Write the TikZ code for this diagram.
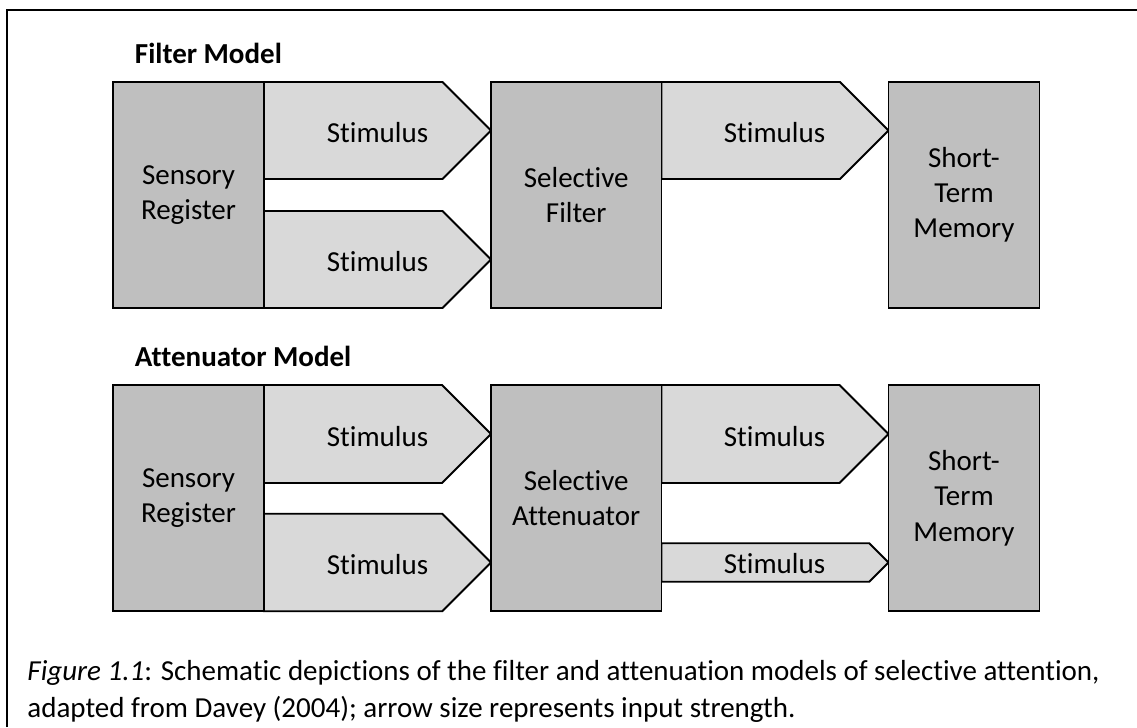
\documentclass[tikz,border=0pt]{standalone}
\usepackage{fontspec}
\setmainfont{Carlito}[Ligatures={NoCommon}]

\definecolor{boxgray}{RGB}{191,191,191}
\definecolor{arrowgray}{RGB}{217,217,217}

\tikzset{
    block/.style={draw, fill=boxgray, align=center, inner sep=0pt,
        minimum height=4.52cm},
    title/.style={anchor=base west, inner sep=0pt, font=\fontsize{16.5}{20}\selectfont\bfseries},
    capline/.style={anchor=base west, inner sep=0pt}
}

\begin{document}
\begin{tikzpicture}[line width=1.1pt, line join=miter, font=\fontsize{16.5}{20}\selectfont]
    \useasboundingbox (0,0) rectangle (22.74,14.54);
    \draw[line width=1.3pt] (0.14,0) -- (0.14,14.34) -- (22.74,14.34);

    % stimulus arrows: left end / tip / middle / half height
    \foreach \xa/\xb/\ym/\hh in {5.28/9.82/11.93/0.97, 5.28/9.82/9.35/0.97,
        13.23/17.77/11.93/0.97, 5.28/9.82/5.86/0.98, 5.28/9.82/3.29/0.975,
        13.23/17.77/5.86/0.98, 13.23/17.77/3.29/0.385}{
        \filldraw[fill=arrowgray] (\xa,\ym+\hh) -- (\xb-\hh,\ym+\hh) -- (\xb,\ym)
            -- (\xb-\hh,\ym-\hh) -- (\xa,\ym-\hh) -- cycle;
    }

    % filter model
    \node[title] (ftitle) at (2.68,13.26) {Filter Model};
    \node[block, minimum width=3.02cm] (fsr) at (3.77,10.64) {Sensory\\Register};
    \node[block, minimum width=3.41cm] (fsel) at (11.525,10.64) {Selective\\Filter};
    \node[block, minimum width=3.02cm] (fstm) at (19.28,10.64) {Short-\\Term\\Memory};
    \node (fs1) at (7.55,11.88) {Stimulus};
    \node (fs2) at (7.55,9.30) {Stimulus};
    \node (fs3) at (15.49,11.88) {Stimulus};

    % attenuator model
    \node[title] (atitle) at (2.68,7.20) {Attenuator Model};
    \node[block, minimum width=3.02cm] (asr) at (3.77,4.575) {Sensory\\Register};
    \node[block, minimum width=3.41cm] (asel) at (11.525,4.575) {Selective\\Attenuator};
    \node[block, minimum width=3.02cm] (astm) at (19.28,4.575) {Short-\\Term\\Memory};
    \node (as1) at (7.55,5.81) {Stimulus};
    \node (as2) at (7.55,3.24) {Stimulus};
    \node (as3) at (15.49,5.81) {Stimulus};
    \node (as4) at (15.49,3.26) {Stimulus};

    \node[capline] (cap1) at (0.53,0.94) {\textit{Figure 1.1}: Schematic depictions of the filter and attenuation models of selective attention,};
    \node[capline] (cap2) at (0.53,0.20) {adapted from Davey (2004); arrow size represents input strength.};

\end{tikzpicture}
\end{document}
